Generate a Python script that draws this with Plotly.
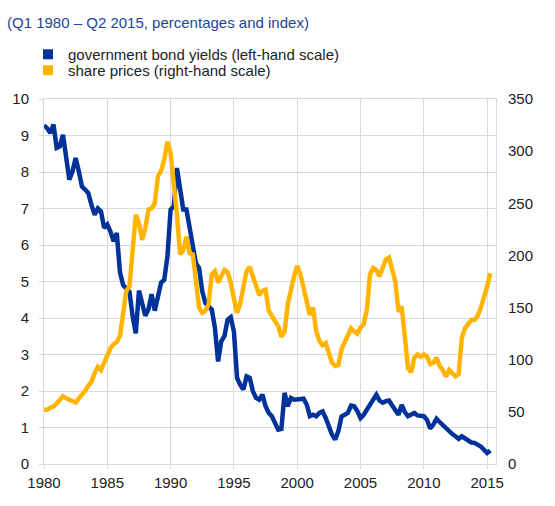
import plotly.graph_objects as go

# Quarterly observations, Q1 1980 - Q2 2015
years = list(range(1980, 2016))
quarters = [(y, q) for y in years for q in range(1, 5)][:142]

# government bond yields, percentages (left-hand scale)
bond_yields = [
    9.28, 9.20, 9.07, 9.30,
    8.66, 8.70, 9.02, 8.38,
    7.79, 8.02, 8.38, 8.02,
    7.60, 7.52, 7.42, 7.10,
    6.83, 7.00, 6.92, 6.47,
    6.56, 6.37, 6.10, 6.33,
    5.25, 4.90, 4.82, 4.72,
    4.05, 3.58, 4.75, 4.42,
    4.06, 4.24, 4.65, 4.20,
    4.55, 4.97, 5.05, 5.70,
    6.97, 7.06, 8.11, 7.47,
    6.97, 6.97, 6.47, 5.92,
    5.50, 5.37, 4.73, 4.41,
    4.32, 4.23, 3.73, 2.81,
    3.36, 3.50, 3.95, 4.02,
    3.63, 2.36, 2.17, 2.04,
    2.40, 2.36, 1.99, 1.81,
    1.76, 1.90, 1.58, 1.40,
    1.31, 1.12, 0.94, 0.96,
    1.95, 1.58, 1.81, 1.76,
    1.76, 1.76, 1.79, 1.63,
    1.31, 1.35, 1.31, 1.40,
    1.44, 1.26, 1.03, 0.80,
    0.67, 0.90, 1.30, 1.35,
    1.40, 1.60, 1.58, 1.45,
    1.26, 1.35, 1.48, 1.60,
    1.76, 1.90, 1.74, 1.68,
    1.72, 1.74, 1.60, 1.49,
    1.35, 1.62, 1.42, 1.31,
    1.35, 1.40, 1.33, 1.33,
    1.31, 1.21, 0.97, 1.08,
    1.24, 1.15, 1.06, 1.00,
    0.91, 0.82, 0.76, 0.69,
    0.76, 0.71, 0.64, 0.59,
    0.58, 0.53, 0.48, 0.39,
    0.30, 0.37,
]

# share prices, index (right-hand scale)
share_prices = [
    52, 52, 54, 55,
    58, 62, 65, 63,
    62, 61, 59, 63,
    66, 70, 75, 79,
    87, 93, 90, 97,
    104, 111, 115, 117,
    123, 145, 166, 170,
    205, 239, 231, 215,
    226, 244, 245, 250,
    276, 281, 292, 309,
    298, 270, 239, 201,
    205, 218, 202, 201,
    172, 150, 145, 147,
    153, 182, 185, 174,
    180, 186, 184, 174,
    159, 145, 154, 170,
    185, 189, 180, 174,
    162, 166, 167, 147,
    142, 138, 132, 122,
    127, 153, 169, 180,
    190, 182, 169, 156,
    143, 150, 127, 118,
    114, 116, 105, 97,
    94, 95, 110, 116,
    122, 130, 127, 125,
    131, 134, 148, 182,
    188, 186, 180, 188,
    196, 198, 188, 175,
    146, 151, 122, 92,
    88, 102, 105, 103,
    105, 103, 96, 97,
    102, 94, 90, 84,
    90, 87, 84, 86,
    121, 130, 135, 138,
    138, 142, 150, 159,
    170, 183,
]

x_ticks = [1980, 1985, 1990, 1995, 2000, 2005, 2010, 2015]
title_text = "(Q1 1980 \u2013 Q2 2015, percentages and index)"
name_bonds = "government bond yields (left-hand scale)"
name_shares = "share prices (right-hand scale)"

BLUE = "#003299"
YELLOW = "#FFB400"
GRID = "#d9d9d9"
TXT = "#222222"
FONT = "Liberation Sans, Arial, sans-serif"

x = [y + (q - 1) / 4 for (y, q) in quarters]

fig = go.Figure()
fig.add_trace(go.Scatter(x=x, y=share_prices, yaxis="y2", mode="lines",
                         line=dict(color=YELLOW, width=4.5), showlegend=False))
fig.add_trace(go.Scatter(x=x, y=bond_yields, yaxis="y", mode="lines",
                         line=dict(color=BLUE, width=4.5), showlegend=False))
# legend entries (square symbols)
fig.add_trace(go.Scatter(x=[None], y=[None], mode="markers", name=name_bonds,
                         marker=dict(symbol="square", size=10, color=BLUE),
                         legend="legend"))
fig.add_trace(go.Scatter(x=[None], y=[None], mode="markers", name=name_shares,
                         marker=dict(symbol="square", size=10, color=YELLOW),
                         legend="legend2"))

fig.update_layout(
    width=555, height=506,
    margin=dict(l=44, r=59, t=99, b=42, autoexpand=False),
    paper_bgcolor="white", plot_bgcolor="white",
    font=dict(family=FONT, size=15, color=TXT),
    title=dict(text=title_text, x=7 / 555, xanchor="left", xref="container",
               y=1 - 23 / 506, yanchor="middle", yref="container",
               font=dict(family=FONT, size=15, color="#1a4599")),
    xaxis=dict(range=[1980, 2015.7], tickvals=x_ticks, showgrid=True,
               gridcolor=GRID, gridwidth=1, zeroline=False,
               showline=True, mirror=True, linecolor=GRID, linewidth=1,
               ticks="outside", ticklen=4, tickcolor=GRID,
               ticklabelstandoff=1),
    yaxis=dict(range=[0, 10], dtick=1, showgrid=True, gridcolor=GRID,
               zeroline=False, showline=True, mirror=True, linecolor=GRID,
               ticks="outside", ticklen=4, tickcolor=GRID,
               ticklabelstandoff=7),
    yaxis2=dict(range=[0, 350], dtick=50, overlaying="y", side="right",
                showgrid=False, zeroline=False, showline=False, ticks="",
                ticklabelstandoff=11),
    legend=dict(x=(28 - 44) / 452, xanchor="left", y=(464.3 - 54.5) / 365.3,
                yanchor="middle", bgcolor="rgba(0,0,0,0)",
                font=dict(family=FONT, size=15, color=TXT)),
    legend2=dict(x=(28 - 44) / 452, xanchor="left", y=(464.3 - 70.5) / 365.3,
                 yanchor="middle", bgcolor="rgba(0,0,0,0)",
                 font=dict(family=FONT, size=15, color=TXT)),
)

fig.write_html("out.html",
               config={"displayModeBar": False},
               post_script="document.body.style.margin='0';")
